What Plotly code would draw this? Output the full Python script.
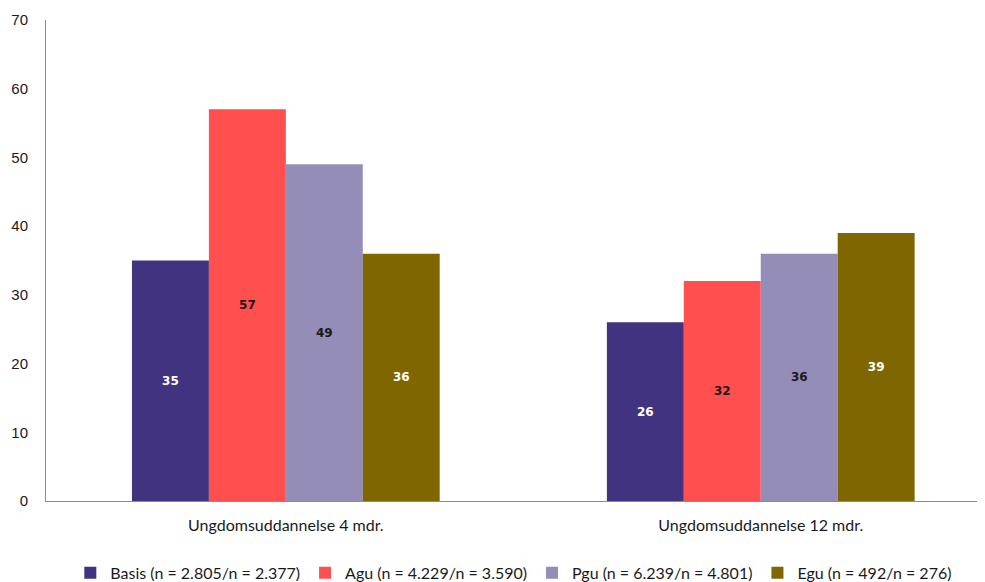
import plotly.graph_objects as go

categories = ["Ungdomsuddannelse 4 mdr.", "Ungdomsuddannelse 12 mdr."]
series_names = [
    "Basis (n = 2.805/n = 2.377)",
    "Agu (n = 4.229/n = 3.590)",
    "Pgu (n = 6.239/n = 4.801)",
    "Egu (n = 492/n = 276)",
]
basis = [35, 26]
agu = [57, 32]
pgu = [49, 36]
egu = [36, 39]
y_ticks = [0, 10, 20, 30, 40, 50, 60, 70]

values = [basis, agu, pgu, egu]
colors = ["#41337F", "#FF4F4F", "#948DB8", "#7F6600"]
label_colors = ["#FFFFFF", "#1A1A1A", "#1A1A1A", "#FFFFFF"]

fig = go.Figure()
for name, vals, col, lc in zip(series_names, values, colors, label_colors):
    fig.add_trace(go.Bar(
        x=categories, y=vals, name=name,
        marker=dict(color=col, line=dict(width=0)),
        text=[str(v) for v in vals],
        textposition="inside", insidetextanchor="middle",
        textangle=0,
        textfont=dict(family="DejaVu Sans", size=12, color=lc, weight="bold"),
        constraintext="none",
    ))

fig.update_layout(
    width=985, height=582,
    barmode="group", bargap=0.352, bargroupgap=0,
    plot_bgcolor="white", paper_bgcolor="white",
    margin=dict(l=38, r=0, t=12, b=89, autoexpand=False),
    showlegend=True,
    legend=dict(orientation="h", x=0.494, xanchor="center", y=-0.114, yanchor="top",
                font=dict(family="Lato", size=16, color="#1A1A1A"),
                itemwidth=30, traceorder="normal"),
)
fig.update_xaxes(range=[-0.505, 1.489], showline=True, linecolor="#8C8C8C", linewidth=1,
                 ticks="", showgrid=False, automargin=False, ticklabelstandoff=10,
                 tickfont=dict(family="Lato", size=16, color="#1A1A1A"))
fig.update_yaxes(range=[0, 70], tickvals=y_ticks, showline=True, linecolor="#8C8C8C", linewidth=1,
                 ticks="", showgrid=False, zeroline=False, ticklabelstandoff=14, automargin=False,
                 tickfont=dict(family="Liberation Sans", size=15, color="#1A1A1A"))

fig.write_html("out.html")
